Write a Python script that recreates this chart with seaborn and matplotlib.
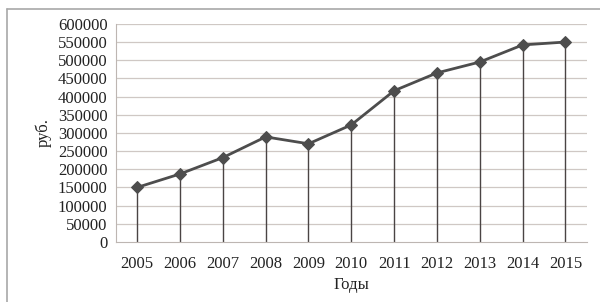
import matplotlib
matplotlib.use("Agg")
import matplotlib.pyplot as plt
import seaborn as sns
import pandas as pd
from matplotlib.lines import Line2D

years = [2005, 2006, 2007, 2008, 2009, 2010, 2011, 2012, 2013, 2014, 2015]
values = [150000, 187000, 232000, 289000, 270000, 322000, 416000, 465000, 495000, 542000, 550000]
y_ticks = list(range(0, 600001, 50000))

df = pd.DataFrame({"year": years, "value": values})

sns.set_style("white")
plt.rcParams["font.family"] = ["Liberation Serif", "DejaVu Serif"]

fig = plt.figure(figsize=(6, 3.02), dpi=100)
ax = fig.add_axes([0.193, 0.199, 0.785, 0.722])

# горизонтальная сетка
for t in y_ticks[1:]:
    ax.axhline(t, color="#cfc8c4", lw=0.9, zorder=0)

# вертикальные линии от точек до оси
ax.vlines(df["year"], 0, df["value"], color="#4a4444", lw=1.0, zorder=1)

sns.lineplot(data=df, x="year", y="value", ax=ax, color="#4d4d4d", lw=2.0,
             marker="D", markersize=6, markeredgecolor="#4d4d4d", zorder=3)

ax.set_xlim(2004.5, 2015.5)
ax.set_ylim(0, 600000)
ax.set_xticks(years)
ax.set_xticklabels([str(y) for y in years])
ax.set_yticks(y_ticks)
ax.set_yticklabels([str(t) for t in y_ticks])
ax.tick_params(axis="y", length=4, width=0.8, color="#bdb6b2", pad=2, labelsize=12, labelcolor="#222222")
ax.tick_params(axis="x", length=0, pad=10, labelsize=12, labelcolor="#222222")

for s in ["top", "right"]:
    ax.spines[s].set_visible(False)
ax.spines["left"].set_color("#bdb6b2")
ax.spines["bottom"].set_color("#bdb6b2")

ax.set_xlabel("Годы", fontsize=12, color="#222222", labelpad=4)
ax.set_ylabel("руб.", fontsize=12, color="#222222", labelpad=4)

# рамка рисунка
fig.add_artist(Line2D([0.012, 0.012], [0.0, 0.97], transform=fig.transFigure, color="#a8a8a8", lw=1.2))
fig.add_artist(Line2D([0.012, 1.0], [0.97, 0.97], transform=fig.transFigure, color="#a8a8a8", lw=1.2))

fig.savefig("out.png", dpi=100)
